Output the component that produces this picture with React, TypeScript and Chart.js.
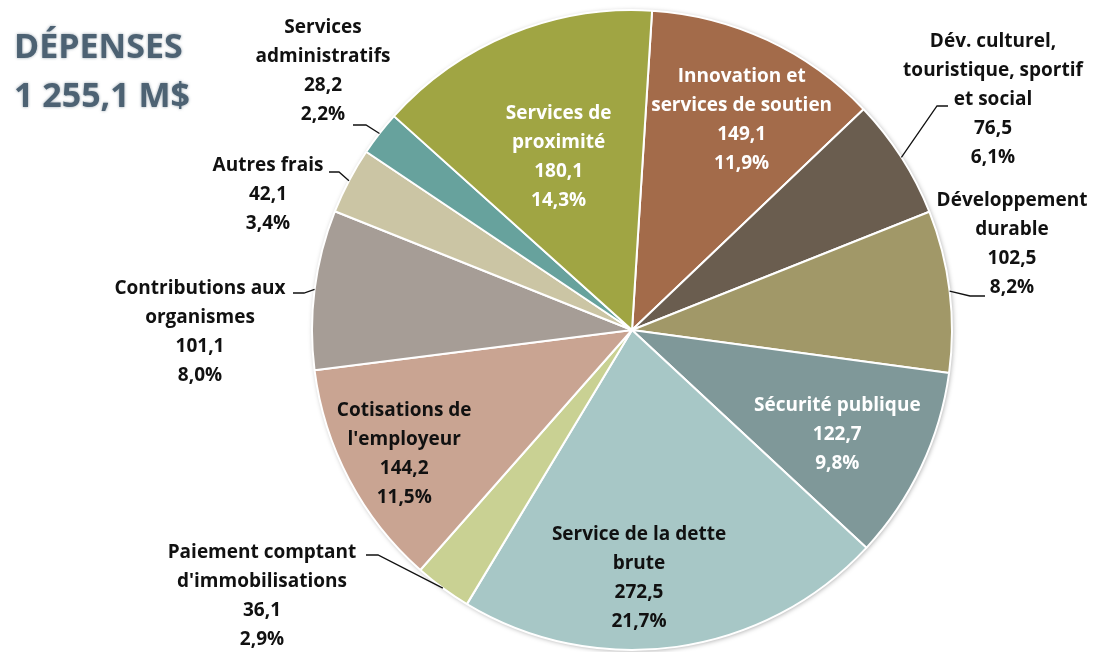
import React, { useEffect, useRef } from "react";
import { Chart, registerables } from "chart.js";

Chart.register(...registerables);

// ---- Data ----
const categories = [
  "Innovation et services de soutien",
  "Dév. culturel, touristique, sportif et social",
  "Développement durable",
  "Sécurité publique",
  "Service de la dette brute",
  "Paiement comptant d'immobilisations",
  "Cotisations de l'employeur",
  "Contributions aux organismes",
  "Autres frais",
  "Services administratifs",
  "Services de proximité",
];
const values = [149.1, 76.5, 102.5, 122.7, 272.5, 36.1, 144.2, 101.1, 42.1, 28.2, 180.1];
const valueLabels = ["149,1", "76,5", "102,5", "122,7", "272,5", "36,1", "144,2", "101,1", "42,1", "28,2", "180,1"];
const percentLabels = ["11,9%", "6,1%", "8,2%", "9,8%", "21,7%", "2,9%", "11,5%", "8,0%", "3,4%", "2,2%", "14,3%"];
const labelLines = [
  ["Innovation et", "services de soutien"],
  ["Dév. culturel,", "touristique, sportif", "et social"],
  ["Développement", "durable"],
  ["Sécurité publique"],
  ["Service de la dette", "brute"],
  ["Paiement comptant", "d'immobilisations"],
  ["Cotisations de", "l'employeur"],
  ["Contributions aux", "organismes"],
  ["Autres frais"],
  ["Services", "administratifs"],
  ["Services de", "proximité"],
];
const titleLines = ["DÉPENSES", "1 255,1 M$"];

// ---- Styles / layout ----
const colors = [
  "#a36b4a",
  "#6a5d4f",
  "#a19868",
  "#7f9899",
  "#a7c7c6",
  "#c9d193",
  "#c9a492",
  "#a69d96",
  "#cbc5a4",
  "#67a29d",
  "#a0a543",
];
const FONT = "bold 19px 'Open Sans', Lato, sans-serif";
const LINE_H = 29;
// inside labels: r = fraction of radius, da = angle tweak (deg)
const insideLayout: Record<number, { r: number; da: number; color: string }> = {
  0: { r: 0.74, da: 2.6, color: "#ffffff" },
  3: { r: 0.72, da: 1.7, color: "#ffffff" },
  4: { r: 0.776, da: 6.4, color: "#111111" },
  6: { r: 0.81, da: -0.6, color: "#111111" },
  10: { r: 0.586, da: -0.8, color: "#ffffff" },
};
// outside labels: text center x, first line y, leader start (lx, ly), elbow x
const outsideLayout: Record<number, { x: number; y: number; lx: number; ly: number; ex: number }> = {
  1: { x: 993, y: 42, lx: 948, ly: 106, ex: 937 },
  2: { x: 1012, y: 201, lx: 985, ly: 296, ex: 970 },
  5: { x: 262, y: 553, lx: 366, ly: 555, ex: 378 },
  7: { x: 200, y: 289, lx: 293, ly: 293, ex: 304 },
  8: { x: 268, y: 166, lx: 329, ly: 172, ex: 339 },
  9: { x: 323, y: 28, lx: 353, ly: 125, ex: 366 },
};

const labelPlugin = {
  id: "customLabels",
  beforeDatasetsDraw(chart: any) {
    const meta = chart.getDatasetMeta(0);
    const arc = meta.data[0];
    if (!arc) return;
    const { x, y, outerRadius } = arc.getProps(["x", "y", "outerRadius"], true);
    const ctx = chart.ctx;
    ctx.save();
    ctx.shadowColor = "rgba(0,0,0,0.35)";
    ctx.shadowBlur = 5;
    ctx.shadowOffsetX = 1;
    ctx.shadowOffsetY = 1;
    ctx.fillStyle = "#ffffff";
    ctx.beginPath();
    ctx.arc(x, y, outerRadius, 0, Math.PI * 2);
    ctx.fill();
    ctx.restore();
  },
  afterDraw(chart: any) {
    const ctx = chart.ctx;
    const meta = chart.getDatasetMeta(0);
    ctx.save();
    // title
    ctx.font = "bold 34px 'Open Sans', Lato, sans-serif";
    ctx.textAlign = "left";
    ctx.textBaseline = "middle";
    ctx.fillStyle = "#4d6273";
    ctx.shadowColor = "rgba(77,98,115,0.6)";
    ctx.shadowBlur = 3;
    ctx.fillText(titleLines[0], 14, 48);
    ctx.fillText(titleLines[1], 14, 97);
    ctx.shadowBlur = 0;
    ctx.shadowColor = "transparent";

    ctx.font = FONT;
    ctx.textAlign = "center";
    meta.data.forEach((el: any, i: number) => {
      const { x, y, startAngle, endAngle, outerRadius } = el.getProps(
        ["x", "y", "startAngle", "endAngle", "outerRadius"],
        true
      );
      const mid = (startAngle + endAngle) / 2;
      const lines = [...labelLines[i], valueLabels[i], percentLabels[i]];
      const ins = insideLayout[i];
      if (ins) {
        const a = mid + (ins.da * Math.PI) / 180;
        const px = x + Math.cos(a) * ins.r * outerRadius;
        const py = y + Math.sin(a) * ins.r * outerRadius;
        ctx.fillStyle = ins.color;
        lines.forEach((t, k) => {
          ctx.fillText(t, px, py + (k - (lines.length - 1) / 2) * LINE_H);
        });
        return;
      }
      const out = outsideLayout[i];
      if (!out) return;
      ctx.fillStyle = "#111111";
      lines.forEach((t, k) => {
        ctx.fillText(t, out.x, out.y + k * LINE_H);
      });
      ctx.strokeStyle = "#111111";
      ctx.lineWidth = 1.3;
      ctx.beginPath();
      ctx.moveTo(out.lx, out.ly);
      ctx.lineTo(out.ex, out.ly);
      ctx.lineTo(x + Math.cos(mid) * outerRadius, y + Math.sin(mid) * outerRadius);
      ctx.stroke();
    });
    ctx.restore();
  },
};

export default function App() {
  const ref = useRef<HTMLCanvasElement | null>(null);
  useEffect(() => {
    document.body.style.margin = "0";
    if (!ref.current) return;
    const chart = new Chart(ref.current, {
      type: "pie",
      data: {
        labels: categories,
        datasets: [
          {
            data: values,
            backgroundColor: colors,
            borderColor: "#ffffff",
            borderWidth: 2,
          },
        ],
      },
      options: {
        animation: false,
        responsive: false,
        devicePixelRatio: 1,
        rotation: 3.6,
        layout: { padding: { top: 9, bottom: 1, left: 311, right: 143 } },
        plugins: {
          legend: { display: false },
          tooltip: { enabled: false },
          title: { display: false },
        },
      },
      plugins: [labelPlugin],
    });
    return () => chart.destroy();
  }, []);
  return (
    <div style={{ position: "absolute", left: 0, top: 0, width: 1096, height: 652, background: "#fff" }}>
      <canvas ref={ref} width={1096} height={652} />
    </div>
  );
}
